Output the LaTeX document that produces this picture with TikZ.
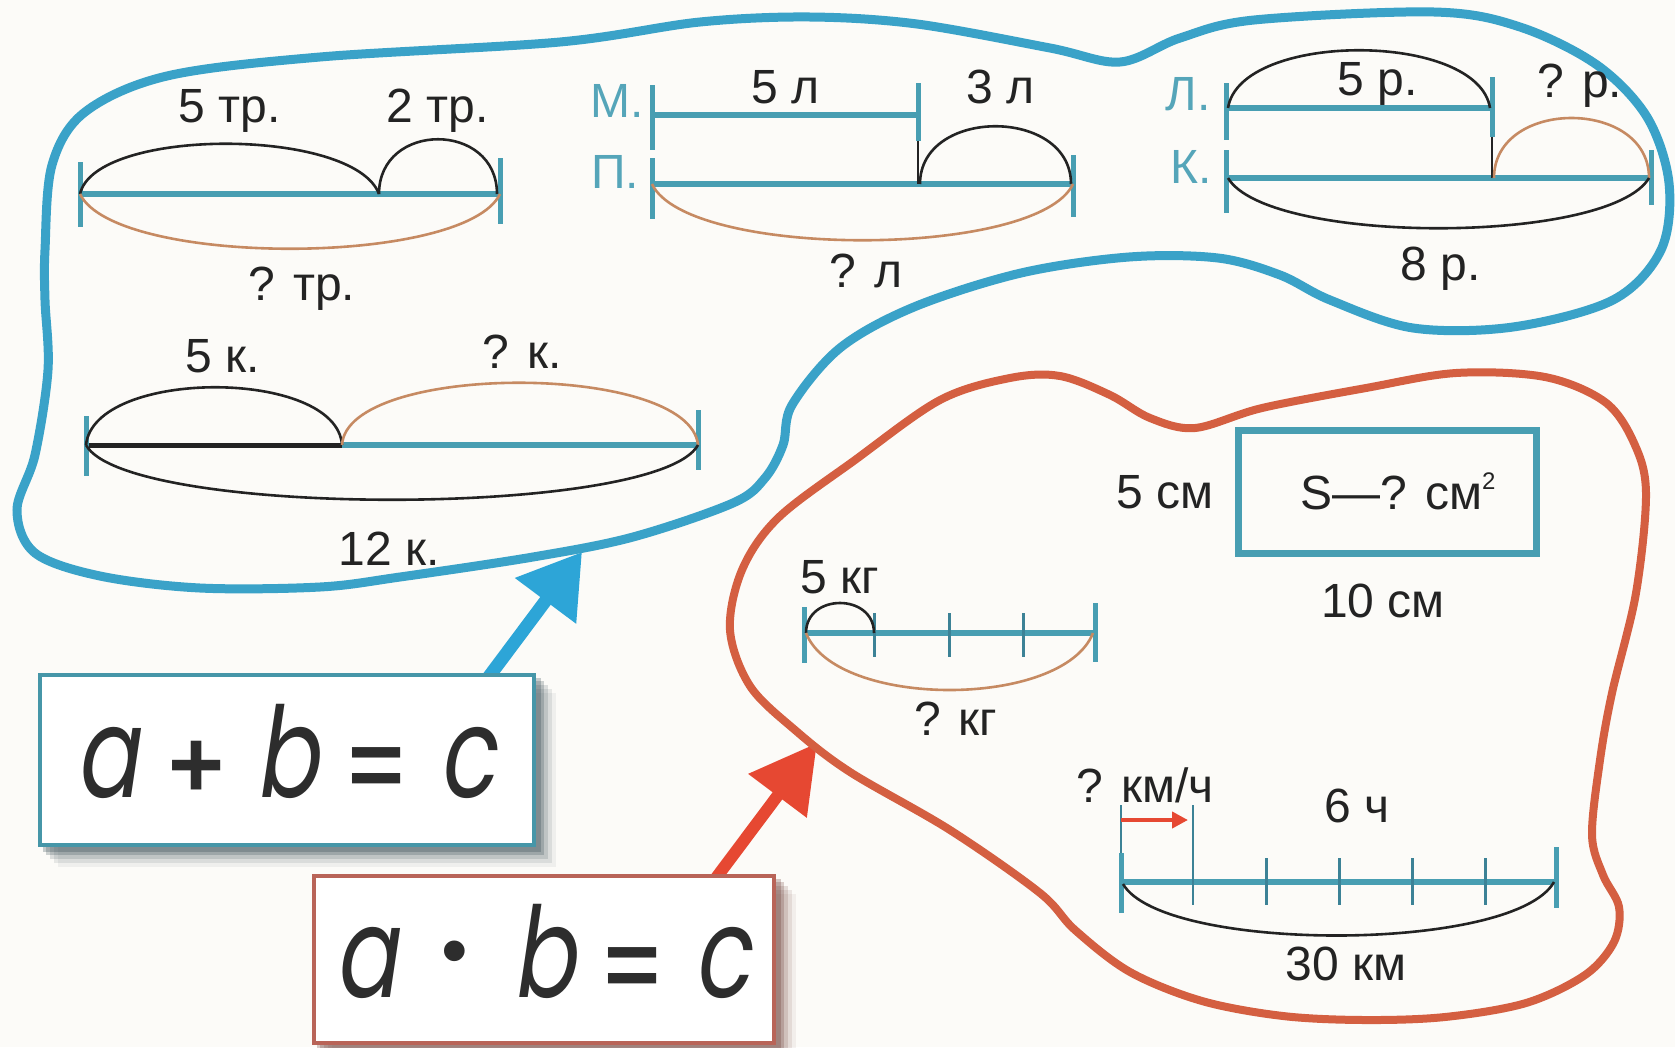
\documentclass[tikz,border=0pt]{standalone}
\usepackage{fontspec}
\usepackage{graphicx}
\setmainfont{Liberation Sans}
\newfontfamily\eqfont[FakeSlant=0.2]{Poppins}
\usetikzlibrary{arrows.meta,calc}
\pgfdeclarelayer{back}
\pgfdeclarelayer{mid}
\pgfsetlayers{back,mid,main}
\definecolor{cBg}{HTML}{FCFBF8}
\definecolor{cOutBlue}{RGB}{58,162,200}
\definecolor{cSeg}{RGB}{72,158,178}
\definecolor{cSegDark}{RGB}{60,130,150}
\definecolor{cArrBlue}{RGB}{45,165,215}
\definecolor{cOutRed}{RGB}{212,95,65}
\definecolor{cArrRed}{RGB}{230,72,50}
\definecolor{cTan}{RGB}{198,138,98}
\definecolor{cInk}{RGB}{35,35,35}
\definecolor{cEq}{RGB}{45,45,45}
\definecolor{cLett}{RGB}{85,165,185}
\definecolor{cBoxBlue}{RGB}{70,150,168}
\definecolor{cBoxRed}{RGB}{185,100,88}
\definecolor{cShA}{RGB}{40,60,70}
\definecolor{cShB}{RGB}{95,45,38}
\newcommand\eqopfont{\normalfont\bfseries\fontsize{96}{96}\selectfont}
\newcommand\eqglyph[2]{\makebox[#1]{\scalebox{0.74}[1]{#2}}}
\tikzset{
  seg/.style={cSeg, line width=6pt},
  tk/.style={cSeg, line width=5pt},
  tkthin/.style={cSegDark, line width=3pt},
  thinink/.style={cInk, line width=1.8pt},
  arcb/.style={cInk, line width=2.6pt},
  arco/.style={cTan, line width=2.6pt},
  lbl/.style={font=\fontsize{48}{52}\selectfont, text=cInk, inner sep=0pt, anchor=base},
  lblb/.style={lbl, text=cLett},
  eqnode/.style={fill=white, line width=3.5pt, inner sep=0pt, text height=87pt, text depth=12pt, text=cEq},
}
\begin{document}
\begin{tikzpicture}[x=1pt,y=-1pt]
\useasboundingbox (0,0) rectangle (1675,1047);
\begin{pgfonlayer}{back}
\fill[cBg] (0,0) rectangle (1675,1047);
\end{pgfonlayer}

% ---------- outlines ----------
\draw[cOutBlue, line width=9pt] plot[smooth cycle, tension=0.55] coordinates {
 (45,250) (52,165) (85,112) (167,76) (320,57) (560,42) (700,22) (810,17) (917,24)
 (1050,48) (1120,62) (1180,38) (1254,20) (1434,12) (1520,27) (1597,65) (1647,117)
 (1669,183) (1661,250) (1613,300) (1513,327) (1413,328) (1330,300) (1280,275)
 (1218,258) (1129,257) (1021,273) (914,307) (840,348) (792,405) (783,445) (765,478)
 (733,503) (633,537) (533,557) (400,577) (320,587) (200,588) (100,576) (35,553)
 (17,510) (35,455) (48,370) (45,300)};
\draw[cOutRed, line width=8pt] plot[smooth cycle, tension=0.55] coordinates {
 (730,630) (742,570) (778,518) (855,460) (940,400) (1010,378) (1060,376) (1110,395)
 (1150,418) (1195,428) (1262,408) (1366,388) (1456,373) (1545,377) (1605,402)
 (1634,443) (1646,493) (1636,593) (1612,693) (1600,760) (1592,835) (1603,875)
 (1619,907) (1614,942) (1585,975) (1526,1003) (1445,1017) (1364,1020) (1283,1016)
 (1202,1001) (1130,972) (1075,930) (1040,893) (950,830) (850,772) (795,730) (750,686)};

% ---------- diagram 1 ----------
\coordinate (d1a) at (80,194); \coordinate (d1j) at (379,194); \coordinate (d1b) at (500,194);
\draw[seg] (d1a) -- (d1b);
\draw[tk] (80,162) -- (80,227);
\draw[tk] (500,158) -- (500,224);
\draw[arcb] (d1a) .. controls ($(d1a)+(15,-67)$) and ($(d1j)+(-25,-67)$) .. (d1j);
\draw[arcb] (d1j) .. controls ($(d1j)+(0,-73)$) and ($(d1b)+(-3,-73)$) .. ($(d1b)+(-3,0)$);
\draw[arco] (d1a) .. controls ($(d1a)+(35,73)$) and ($(d1b)+(-35,73)$) .. (d1b);
\node[lbl] (t5tr) at (230,122) {5 тр.};
\node[lbl] (t2tr) at (438,122) {2 тр.};
\node[lbl] (tqtr) at (302,300) {? тр.};

% ---------- diagram 2 ----------
\coordinate (d2ma) at (652,115); \coordinate (d2mb) at (918,115);
\coordinate (d2pa) at (652,184); \coordinate (d2pj) at (918,184); \coordinate (d2pb) at (1073,184);
\draw[seg] (d2ma) -- (d2mb);
\draw[seg] (d2pa) -- (d2pb);
\draw[tk] (652,85) -- (652,150);
\draw[tk] (652,158) -- (652,219);
\draw[tk] (918,83) -- (918,141);
\draw[tk] (1073,155) -- (1073,217);
\draw[thinink] (918,141) -- (d2pj);
\draw[arcb] ($(d2pj)+(2,0)$) .. controls ($(d2pj)+(2,-77)$) and ($(d2pb)+(-2,-77)$) .. ($(d2pb)+(-2,0)$);
\draw[arco] (d2pa) .. controls ($(d2pa)+(35,75)$) and ($(d2pb)+(-35,75)$) .. (d2pb);
\node[lblb] (tM) at (617,117) {М.};
\node[lblb] (tP) at (615,188) {П.};
\node[lbl] (t5l) at (786,103) {5 л};
\node[lbl] (t3l) at (1001,103) {3 л};
\node[lbl] (tql) at (866,287) {? л};

% ---------- diagram 3 ----------
\coordinate (d3la) at (1226,108); \coordinate (d3lb) at (1492,108);
\coordinate (d3ka) at (1226,178); \coordinate (d3kj) at (1492,178); \coordinate (d3kb) at (1651,178);
\draw[seg] (d3la) -- (d3lb);
\draw[seg] (d3ka) -- (d3kb);
\draw[tk] (1226,83) -- (1226,140);
\draw[tk] (1226,150) -- (1226,213);
\draw[tk] (1492,77) -- (1492,137);
\draw[tk] (1651,150) -- (1651,205);
\draw[thinink] (1492,137) -- (d3kj);
\draw[arcb] ($(d3la)+(2,0)$) .. controls ($(d3la)+(14,-77)$) and ($(d3lb)+(-14,-77)$) .. ($(d3lb)+(-2,0)$);
\draw[arco] ($(d3kj)+(2,0)$) .. controls ($(d3kj)+(2,-80)$) and ($(d3kb)+(-2,-80)$) .. ($(d3kb)+(-2,0)$);
\draw[arcb] ($(d3ka)+(2,0)$) .. controls ($(d3ka)+(42,67)$) and ($(d3kb)+(-42,67)$) .. ($(d3kb)+(-2,0)$);
\node[lblb] (tLk) at (1188,110) {Л.};
\node[lblb] (tK) at (1191,183) {К.};
\node[lbl] (t5r) at (1378,95) {5 р.};
\node[lbl] (tqr) at (1580,97) {? р.};
\node[lbl] (t8r) at (1441,280) {8 р.};

% ---------- diagram 4 ----------
\coordinate (d4a) at (86,445); \coordinate (d4j) at (342,445); \coordinate (d4b) at (698,445);
\draw[cInk, line width=5pt] (d4a) -- (d4j);
\draw[seg] (d4j) -- (d4b);
\draw[tk] (86,416) -- (86,476);
\draw[tk] (698,410) -- (698,470);
\draw[arcb] (d4a) .. controls ($(d4a)+(8,-77)$) and ($(d4j)+(-5,-77)$) .. (d4j);
\draw[arco] (d4j) .. controls ($(d4j)+(5,-83)$) and ($(d4b)+(-8,-83)$) .. (d4b);
\draw[arcb] (d4a) .. controls ($(d4a)+(40,73)$) and ($(d4b)+(-40,73)$) .. (d4b);
\node[lbl] (t5k) at (223,372) {5 к.};
\node[lbl] (tqk) at (522,368) {? к.};
\node[lbl] (t12k) at (389,565) {12 к.};

% ---------- rectangle ----------
\node[draw=cSeg, line width=7pt, minimum width=298pt, minimum height=123pt, inner sep=0pt,
      font=\fontsize{48}{52}\selectfont, text=cInk] (rect) at (1387,491.5)
      {\hspace*{22pt}S—? см\raisebox{20pt}{\fontsize{24}{24}\selectfont 2}};
\node[lbl] (t5cm) at (1165,508) {5 см};
\node[lbl] (t10cm) at (1383,617) {10 см};

% ---------- kg diagram ----------
\coordinate (kga) at (804,633); \coordinate (kgb) at (1095,633);
\draw[seg] (kga) -- (kgb);
\draw[tk] (804,607) -- (804,663);
\draw[tk] (1095,603) -- (1095,662);
\foreach \xx in {874,949,1023} { \draw[tkthin] (\xx,613) -- (\xx,657); }
\draw[arcb] ($(kga)+(2,0)$) .. controls ($(kga)+(2,-40)$) and (874,593) .. (874,633);
\draw[arco] ($(kga)+(2,0)$) .. controls ($(kga)+(32,76)$) and ($(kgb)+(-32,76)$) .. ($(kgb)+(-2,0)$);
\node[lbl] (t5kg) at (840,593) {5 кг};
\node[lbl] (tqkg) at (956,735) {? кг};

% ---------- km diagram ----------
\coordinate (kma) at (1121,882); \coordinate (kmb) at (1556,882);
\draw[seg] (kma) -- (kmb);
\draw[tk] (1121,853) -- (1121,913);
\draw[tk] (1556,847) -- (1556,908);
\draw[cSegDark, line width=2pt] (1121,805) -- (1121,853);
\draw[cSegDark, line width=2.5pt] (1193,805) -- (1193,905);
\foreach \xx in {1266,1339,1412,1485} { \draw[tkthin] (\xx,858) -- (\xx,905); }
\draw[arcb] ($(kma)+(2,2)$) .. controls ($(kma)+(42,71)$) and ($(kmb)+(-42,71)$) .. ($(kmb)+(-2,0)$);
\coordinate (sp0) at (1121,820); \coordinate (sp1) at (1188,820);
\draw[cArrRed, line width=4pt, -{Triangle[length=16pt,width=16pt]}] (sp0) -- (sp1);
\node[lbl] (tkmh) at (1145,802) {? км/ч};
\node[lbl] (t6h) at (1357,822) {6 ч};
\node[lbl] (t30km) at (1346,980) {30 км};

% ---------- equation boxes ----------
\node[eqnode, draw=cBoxBlue, minimum width=494pt, minimum height=170pt] (eq1) at (287,760)
  {\eqfont\fontsize{126}{126}\selectfont\eqglyph{90pt}{a}\makebox[90pt]{\eqopfont +}\eqglyph{90pt}{b}\makebox[90pt]{\eqopfont =}\eqglyph{90pt}{c}};
\node[eqnode, draw=cBoxRed, minimum width=460pt, minimum height=167pt] (eq2) at (544,959.5)
  {\eqfont\fontsize{126}{126}\selectfont\eqglyph{89pt}{a}\makebox[89pt]{\raisebox{21pt}{\normalfont\fontsize{76}{76}\selectfont •}}\eqglyph{89pt}{b}\makebox[89pt]{\eqopfont =}\eqglyph{89pt}{c}};
\coordinate (tip1) at (582,552);
\coordinate (tip2) at (817,743);

\begin{pgfonlayer}{mid}
\foreach \d/\o in {20/0.06,16/0.10,12/0.15,8/0.22,5/0.25} {
  \fill[cShA, opacity=\o] ($(eq1.north west)+(\d,\d)$) rectangle ($(eq1.south east)+(\d,\d)$);
  \fill[cShB, opacity=\o] ($(eq2.north west)+(\d,\d)$) rectangle ($(eq2.south east)+(\d,\d)$);
}
\draw[cArrBlue, line width=13pt, -{Triangle[length=61pt,width=73pt]}, shorten <=-12pt] (eq1.23) -- (tip1);
\draw[cArrRed, line width=12pt, -{Triangle[length=66pt,width=70pt]}, shorten <=-12pt] (eq2.26) -- (tip2);
\end{pgfonlayer}
\end{tikzpicture}
\end{document}
